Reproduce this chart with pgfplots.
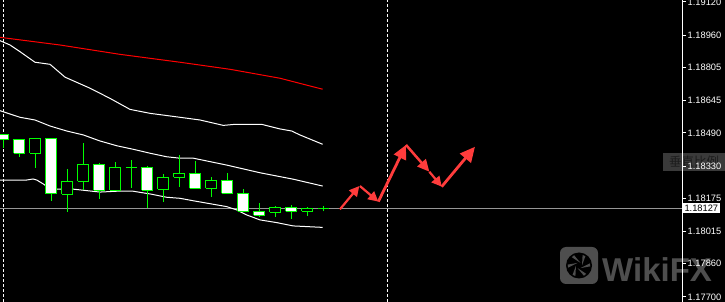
\documentclass[border=0pt]{standalone}
\usepackage{fontspec}
\setmainfont{Liberation Sans}
\newfontfamily\cjk{Noto Sans CJK SC}
\usepackage{pgfplots}
\pgfplotsset{compat=1.18}
\usetikzlibrary{arrows.meta}
\definecolor{cg}{RGB}{0,255,0}
\definecolor{arr}{RGB}{255,60,60}
\definecolor{wm}{RGB}{78,78,78}
\definecolor{pl}{RGB}{150,150,150}
\definecolor{boxg}{RGB}{58,58,58}
% y values are prices in points (0.00001) above 1.18000
% x, body top, body bottom, high, low, fill
\newcommand{\candle}[6]{%
  \pgfmathsetmacro\candL{#1-0.34375}\pgfmathsetmacro\candR{#1+0.34375}%
  \addplot[cg, line width=1pt] coordinates {(#1,#5) (#1,#4)};
  \edef\candtemp{\noexpand\addplot[draw=cg, fill=#6, line width=1pt, line join=miter]
    coordinates {(\candL,#3) (\candR,#3) (\candR,#2) (\candL,#2) (\candL,#3)};}%
  \candtemp}
\begin{document}
\begin{tikzpicture}
\useasboundingbox (0,0) rectangle (725pt,302pt);
\fill[black] (0,0) rectangle (725pt,302pt);
% vertical scale box
\fill[boxg] (663pt,131pt) rectangle (725pt,149pt);
\node[text={rgb,255:red,28;green,28;blue,28}, font=\cjk\fontsize{12.5}{12.5}\selectfont, anchor=center, inner sep=0] at (694pt,140pt) {垂直比例};
% watermark
\fill[wm, rounded corners=6pt] (560pt,18pt) rectangle (598pt,55pt);
\fill[black] (579pt,36.5pt) circle (13pt);
\foreach \a in {0,60,...,300} {
  \fill[wm] (579pt,36.5pt) ++(\a:3pt) -- ++(\a+70:10pt) -- ++(\a+160:3pt) -- cycle;
}
\node[text=wm, font=\bfseries\fontsize{33}{33}\selectfont, anchor=base west, inner sep=0] at (602pt,20pt) {WikiFX};
\begin{axis}[
  at={(0pt,0pt)}, anchor=south west,
  scale only axis, width=682pt, height=302pt,
  xmin=-0.206, xmax=42.42, ymin=-324.2, ymax=1129.6,
  enlargelimits=false,
  axis x line=none, axis y line*=right,
  axis line style={white, line width=1pt},
  ytick={-300,-140,15,175,330,490,645,805,960,1120},
  yticklabels={1.17700,1.17860,1.18015,1.18175,1.18330,1.18490,1.18645,1.18805,1.18960,1.19120},
  scaled y ticks=false,
  tick align=outside, major tick length=4pt,
  tick style={white, line width=1pt},
  yticklabel style={text=white, font=\fontsize{9.3}{10}\selectfont, inner sep=1.5pt},
  extra y ticks={127}, extra y tick labels={1.18127},
  extra y tick style={tick style={draw=none}, yticklabel style={fill=white, text=black, inner sep=1.8pt, xshift=-3.5pt}},
]
% current price line
\addplot[pl, line width=1pt] coordinates {(-0.206,127) (42.42,127)};
% period separators
\addplot[white, line width=1pt, dash pattern=on 3pt off 2pt] coordinates {(0,-324.2) (0,1129.6)};
\addplot[white, line width=1pt, dash pattern=on 3pt off 2pt] coordinates {(24,-324.2) (24,1129.6)};
% red moving average
\addplot[red, line width=1pt] coordinates {
(-0.21,950) (3.54,913) (7.29,868) (11.04,830) (14.17,796) (17.29,753) (19.96,700)};
% upper band
\addplot[white, line width=1pt] coordinates {
(-0.21,934) (0.42,913) (1.04,881) (1.98,830) (2.92,820) (3.86,758)
(5.42,705) (6.67,656) (7.92,603) (9.17,584) (11.04,565) (12.29,552)
(13.75,526) (14.48,531) (16.15,531) (17.29,509) (18.02,499) (18.54,480) (19.96,435)};
% middle band
\addplot[white, line width=1pt] coordinates {
(-0.21,597) (1.04,565) (1.98,552) (2.92,523) (3.96,499) (5.00,480)
(6.04,451) (7.09,428) (8.12,411) (9.17,392) (10.21,375) (11.04,368)
(11.88,368) (13.96,335) (16.04,298) (18.12,267) (19.96,234)};
% lower band
\addplot[white, line width=1pt] coordinates {
(-0.21,263) (1.46,263) (1.86,268) (2.09,263) (2.50,244) (2.92,220)
(4.38,219) (6.04,205) (7.09,209) (8.12,209) (9.17,196) (10.21,180)
(11.04,175) (11.88,163) (13.96,135) (14.59,119) (15.21,95) (16.04,71)
(17.09,58) (18.12,42) (19.96,35)};
% candles
\candle{0}{480}{456}{480}{417}{white}
\candle{1}{456}{392}{456}{375}{white}
\candle{2}{461}{392}{465}{322}{black}
\candle{3}{461}{196}{465}{163}{white}
\candle{4}{257}{194}{316}{110}{black}
\candle{5}{340}{257}{441}{214}{black}
\candle{6}{339}{214}{343}{173}{white}
\candle{7}{324}{214}{350}{214}{black}
\candle{8}{324}{324}{359}{226}{black}
\candle{9}{324}{214}{330}{130}{white}
\candle{10}{276}{218}{291}{159}{black}
\candle{11}{295}{276}{383}{231}{black}
\candle{12}{295}{223}{356}{220}{white}
\candle{13}{262}{223}{276}{183}{black}
\candle{14}{262}{199}{297}{199}{white}
\candle{15}{199}{112}{220}{112}{white}
\candle{16}{112}{93}{152}{84}{white}
\candle{17}{132}{108}{138}{86}{black}
\candle{18}{132}{112}{143}{77}{white}
\candle{19}{127}{112}{132}{91}{black}
\candle{20}{125}{125}{137}{112}{black}
% hand-drawn forecast arrows
\addplot[arr, line width=2.2pt, -{Triangle[length=10pt,width=10pt]}] coordinates {(21.04,122) (22.25,234)};
\addplot[arr, line width=2.2pt, -{Triangle[length=10pt,width=10pt]}] coordinates {(22.29,234) (23.44,159)};
\addplot[arr, line width=2.8pt, -{Triangle[length=14pt,width=13pt]}] coordinates {(23.44,159) (25.17,432)};
\addplot[arr, line width=2.5pt, -{Triangle[length=12pt,width=11pt]}] coordinates {(25.17,432) (26.63,303)};
\addplot[arr, line width=2.2pt, -{Triangle[length=10pt,width=10pt]}] coordinates {(26.63,303) (27.40,231)};
\addplot[arr, line width=2.8pt, -{Triangle[length=15pt,width=14pt]}] coordinates {(27.40,231) (29.48,423)};
\end{axis}
\end{tikzpicture}
\end{document}
